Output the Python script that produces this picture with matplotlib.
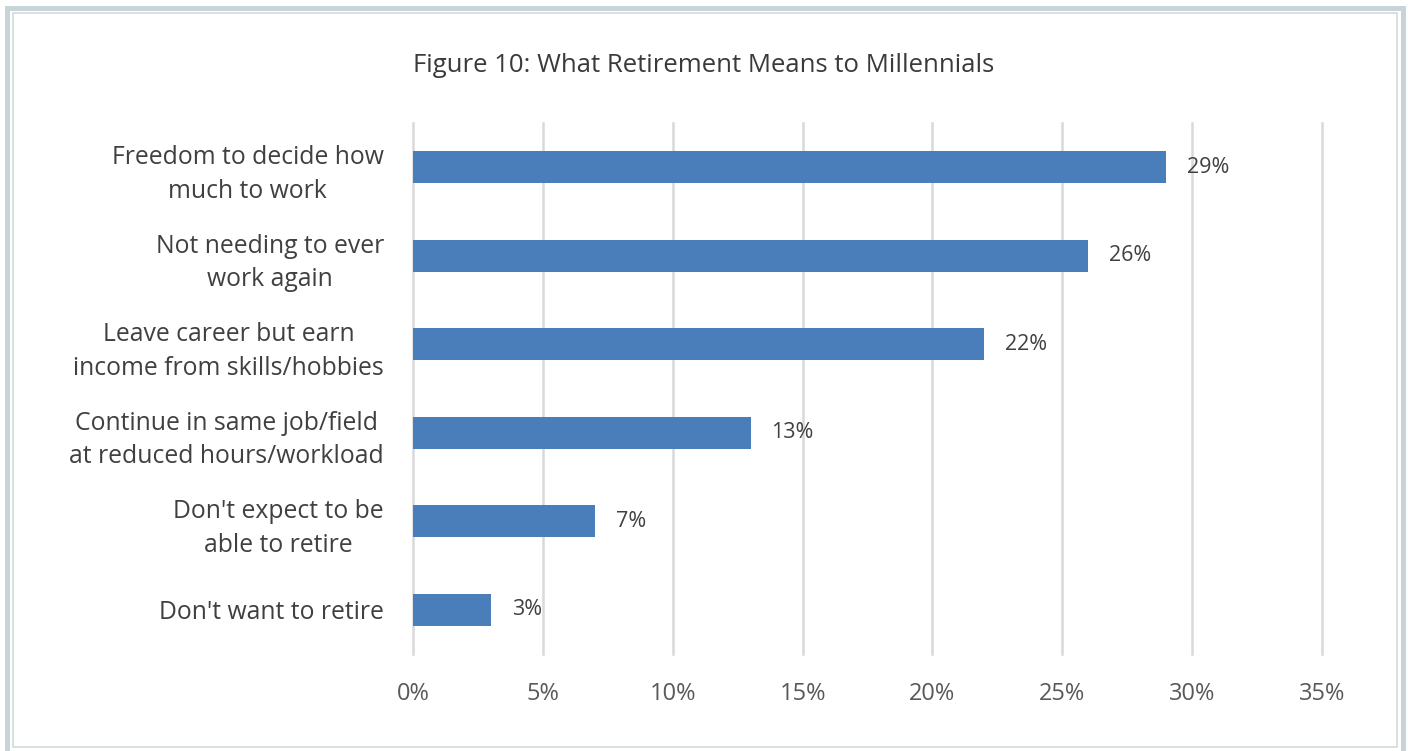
import matplotlib.pyplot as plt
from matplotlib.patches import Rectangle

# Datos de la figura
categorias = [
    "Freedom to decide how\nmuch to work",
    "Not needing to ever\nwork again",
    "Leave career but earn\nincome from skills/hobbies",
    "Continue in same job/field\nat reduced hours/workload",
    "Don't expect to be\nable to retire",
    "Don't want to retire",
]
valores = [29, 26, 22, 13, 7, 3]
ticks_x = [0, 5, 10, 15, 20, 25, 30, 35]

plt.rcParams['font.family'] = ['Open Sans', 'DejaVu Sans']

W, H = 1408, 751
fig = plt.figure(figsize=(W / 100, H / 100), dpi=100)


def marco(x0, y0, x1, y1, lw, color):
    # rectángulo en pixeles (origen arriba a la izquierda)
    fig.patches.append(Rectangle((x0 / W, 1 - y1 / H), (x1 - x0) / W, (y1 - y0) / H,
                                 transform=fig.transFigure, fill=False,
                                 edgecolor=color, linewidth=lw))


marco(7.5, 7.5, 1402.5, 755, 3.6, '#c8d5d8')
marco(12.5, 12.5, 1396.5, 747, 1.2, '#cfdbde')

ax = fig.add_axes([413 / W, 1 - 654 / H, (1322 - 413) / W, (654 - 123) / H])

pos = list(range(len(categorias)))
ax.barh(pos, valores, height=0.36, color='#4a7ebb', zorder=3)
for p, v in zip(pos, valores):
    ax.text(v + 0.8, p, f'{v}%', va='center', ha='left', fontsize=15.5, color='#404040')

ax.set_yticks(pos)
ax.set_yticklabels(categorias, fontsize=17.8, color='#404040', linespacing=1.45,
                   multialignment='center')
ax.set_ylim(len(categorias) - 0.5, -0.5)
ax.set_xlim(0, 35)
ax.set_xticks(ticks_x)
ax.set_xticklabels([f'{t}%' for t in ticks_x], fontsize=17, color='#595959')
ax.tick_params(axis='both', length=0)
ax.tick_params(axis='x', pad=20)
ax.tick_params(axis='y', pad=21)
ax.grid(axis='x', color='#d9d9d9', linewidth=1.8, zorder=0)
for g in ax.xaxis.get_gridlines():
    g.set_clip_on(False)
for s in ax.spines.values():
    s.set_visible(False)

fig.text(0.5, 1 - 65 / H, 'Figure 10: What Retirement Means to Millennials',
         ha='center', va='center', fontsize=18.5, color='#3a3a3a')

fig.savefig('out.png', dpi=100)
